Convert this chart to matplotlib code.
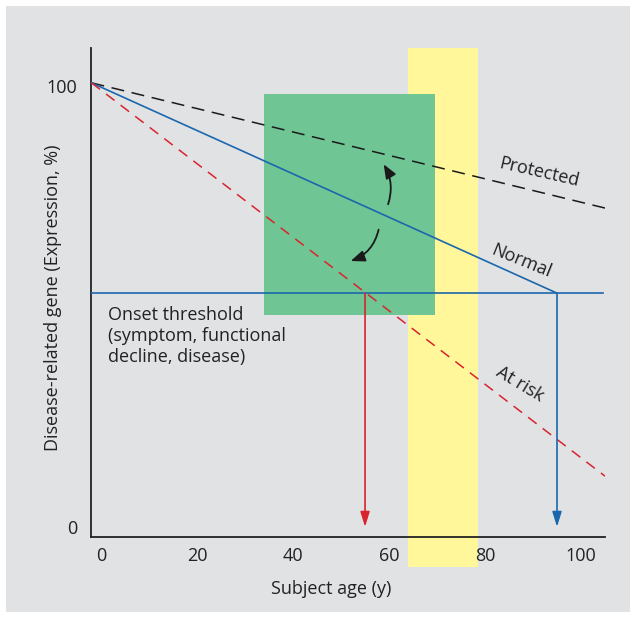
import matplotlib
matplotlib.use("Agg")
import matplotlib.pyplot as plt
from matplotlib.patches import Rectangle, FancyArrowPatch

plt.rcParams['font.family'] = ['Open Sans', 'DejaVu Sans']

# data
protected_age = [-2, 105]
protected = [100.7, 72.3]
normal_age = [-2, 95]
normal = [100.7, 53.0]
atrisk_age = [-2, 105]
at_risk = [100.7, 11.5]
threshold = 53.0
threshold_span = [-2, 104.5]
onset_atrisk = 55
onset_normal = 95
green_x = [34, 69.5]
green_y = [48.1, 98.2]
yellow_x = [64, 78.6]
xticks = [0, 20, 40, 60, 80, 100]
yticks = [0, 100]

BG = '#e1e2e4'
BLUE = '#1b67ad'
RED = '#d9232e'
GREEN = '#70c594'
YELLOW = '#fff79a'
FS = 13

fig = plt.figure(figsize=(6.36, 6.17), dpi=100)
fig.patch.set_facecolor('white')
fig.patches.append(Rectangle((6/636, 5/617), 624/636, 606/617,
                             transform=fig.transFigure, facecolor=BG,
                             edgecolor='none', zorder=-10))
ax = fig.add_axes([91/636, 1-537/617, 514/636, 489/617])
ax.set_facecolor('none')
ax.set_xlim(-2.1, 105)
ax.set_ylim(-2.3, 108.6)

for s in ['top', 'right']:
    ax.spines[s].set_visible(False)
for s in ['left', 'bottom']:
    ax.spines[s].set_color('#222222')
    ax.spines[s].set_linewidth(1.3)

ax.set_xticks(xticks)
ax.set_yticks(yticks)
ax.tick_params(length=0, labelsize=FS, colors='#222222', pad=10)
ax.tick_params(axis='x', pad=7)

# yellow band (extends below axis)
ax.add_patch(Rectangle((yellow_x[0], -9.1), yellow_x[1]-yellow_x[0], 108.6+9.1,
                       facecolor=YELLOW, edgecolor='none', zorder=0.5, clip_on=False))
# green box
ax.add_patch(Rectangle((green_x[0], green_y[0]), green_x[1]-green_x[0], green_y[1]-green_y[0],
                       facecolor=GREEN, edgecolor='none', zorder=0.8))

ax.plot(protected_age, protected, color='#1a1a1a', lw=1.1, dashes=(8.5, 5), zorder=3)
ax.plot(normal_age, normal, color=BLUE, lw=1.2, zorder=3)
ax.plot(atrisk_age, at_risk, color=RED, lw=1.1, dashes=(7, 5), zorder=3)
ax.plot(threshold_span, [threshold, threshold], color=BLUE, lw=1.2, zorder=3)

ax.annotate('', xy=(onset_atrisk, 0), xytext=(onset_atrisk, threshold),
            arrowprops=dict(arrowstyle='-|>,head_length=0.9,head_width=0.28',
                            color=RED, lw=1.2, shrinkA=0, shrinkB=0), zorder=3)
ax.annotate('', xy=(onset_normal, 0), xytext=(onset_normal, threshold),
            arrowprops=dict(arrowstyle='-|>,head_length=0.9,head_width=0.28',
                            color=BLUE, lw=1.2, shrinkA=0, shrinkB=0), zorder=3)

# curved arrows (display-pixel positions converted to data)
def px(x, y):
    return ((x - 101) / 4.78, (527 - y) / 4.41)

a1 = FancyArrowPatch(px(386, 207), px(381, 162), connectionstyle='arc3,rad=0.25',
                     arrowstyle='-|>,head_length=7,head_width=2.8', color='#1a1a1a',
                     lw=1.3, mutation_scale=1.2, zorder=4)
a2 = FancyArrowPatch(px(378, 227), px(347, 262), connectionstyle='arc3,rad=-0.3',
                     arrowstyle='-|>,head_length=7,head_width=2.8', color='#1a1a1a',
                     lw=1.3, mutation_scale=1.2, zorder=4)
ax.add_patch(a1)
ax.add_patch(a2)

tc = '#222222'
ax.text(*px(537, 172), 'Protected', rotation=-13, ha='center', va='center',
        fontsize=FS, color=tc, rotation_mode='anchor')
ax.text(*px(520, 261), 'Normal', rotation=-22, ha='center', va='center',
        fontsize=FS, color=tc, rotation_mode='anchor')
ax.text(*px(518, 384), 'At risk', rotation=-31, ha='center', va='center',
        fontsize=FS, color=tc, rotation_mode='anchor')
ax.text(*px(108, 306), 'Onset threshold\n(symptom, functional\ndecline, disease)',
        ha='left', va='top', fontsize=FS, color=tc, linespacing=1.22)

ax.set_xlabel('Subject age (y)', fontsize=FS, color=tc)
ax.set_ylabel('Disease-related gene (Expression, %)', fontsize=FS, color=tc)
ax.yaxis.set_label_coords(-0.057, (537-298)/489)
ax.xaxis.set_label_coords((331-91)/514, -(580-537)/489)

fig.savefig('out.png', dpi=100)
